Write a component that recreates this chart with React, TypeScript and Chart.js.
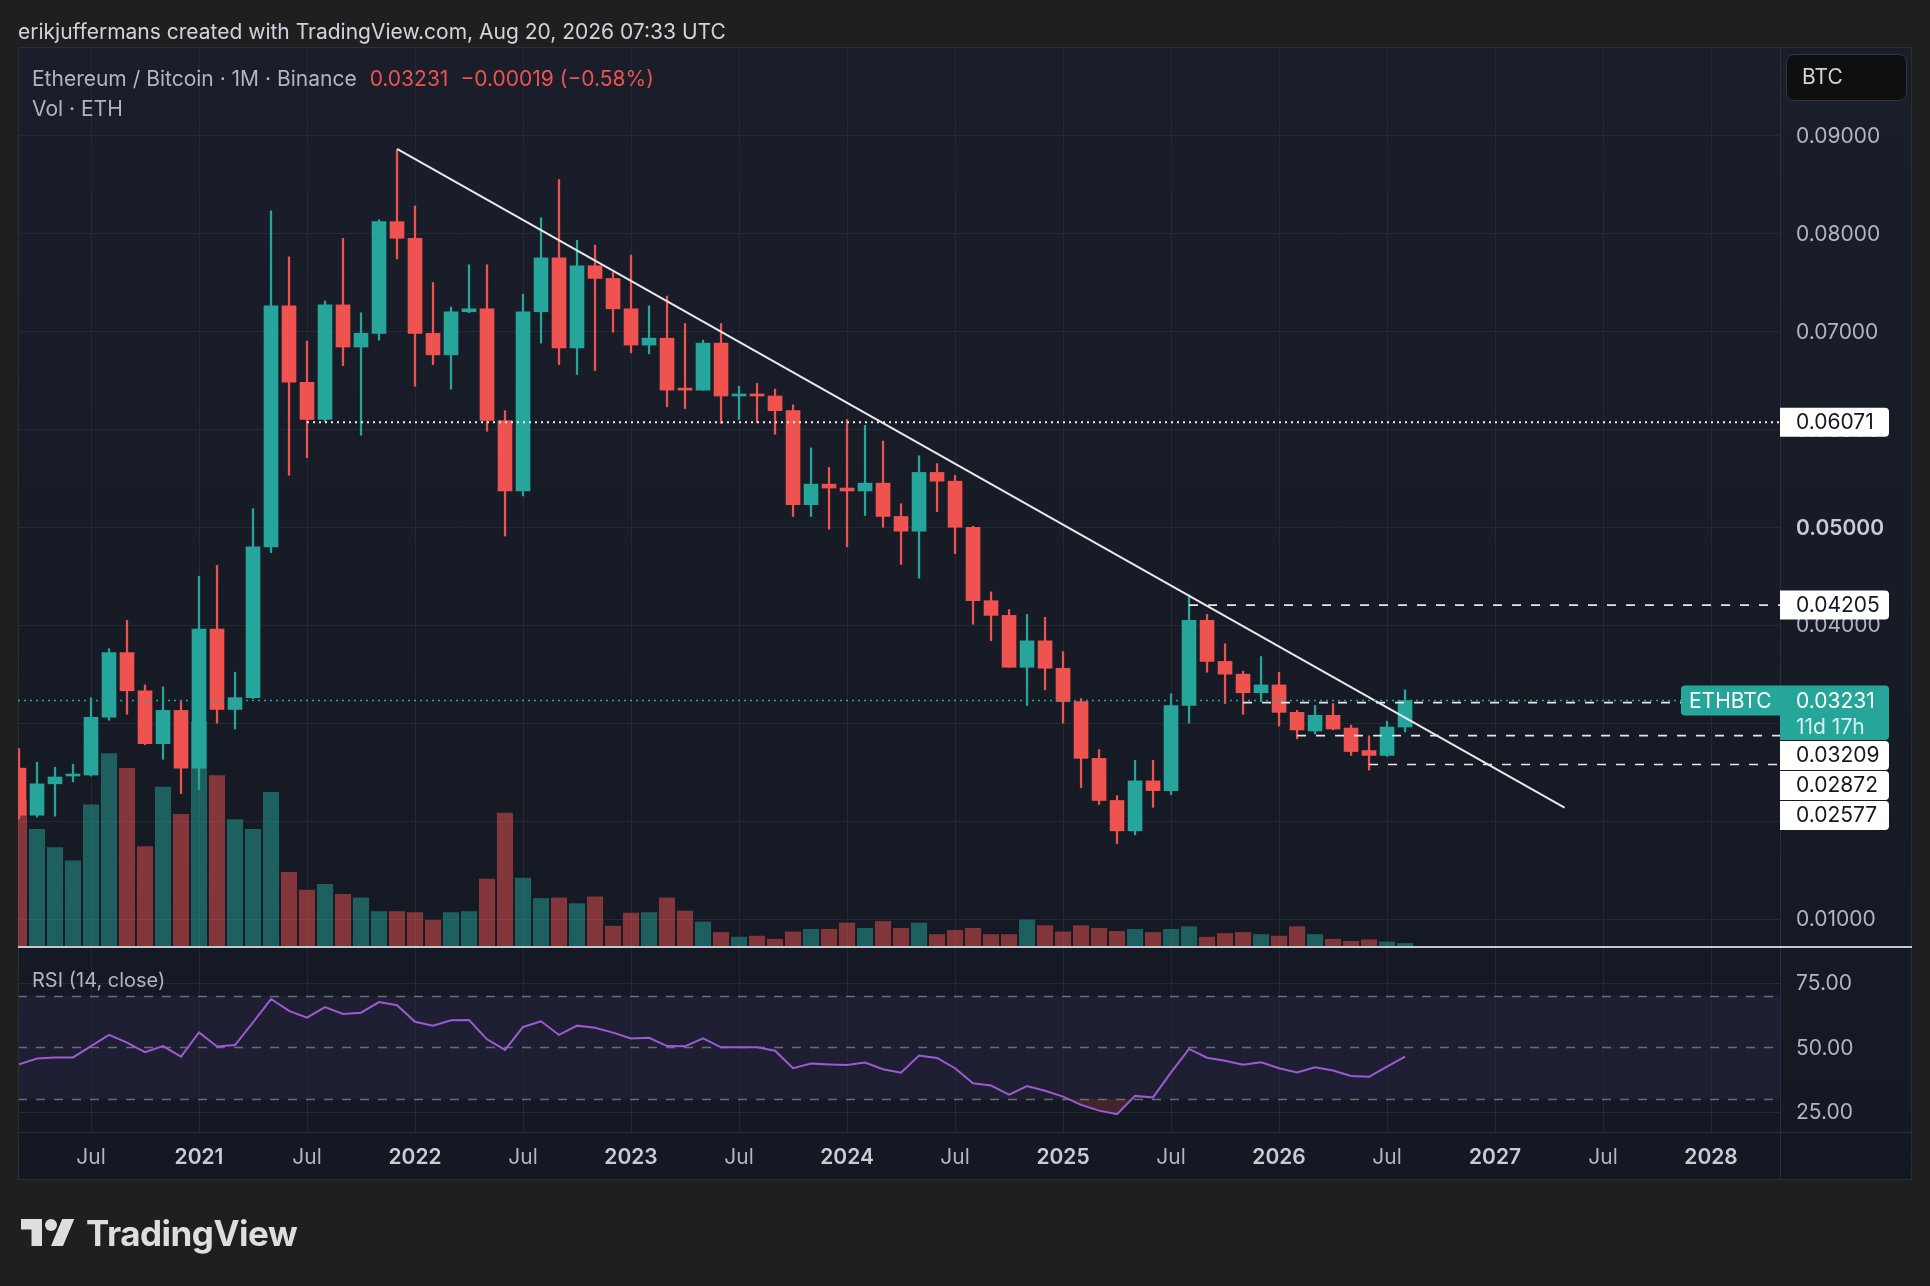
import React, { useEffect, useRef } from "react";
import { Chart, registerables } from "chart.js";

Chart.register(...registerables);

// ---------------- DATA ----------------
const months = [
  "2020-03", "2020-04", "2020-05", "2020-06", "2020-07", "2020-08", "2020-09", "2020-10", "2020-11", "2020-12",
  "2021-01", "2021-02", "2021-03", "2021-04", "2021-05", "2021-06", "2021-07", "2021-08", "2021-09", "2021-10", "2021-11", "2021-12",
  "2022-01", "2022-02", "2022-03", "2022-04", "2022-05", "2022-06", "2022-07", "2022-08", "2022-09", "2022-10", "2022-11", "2022-12",
  "2023-01", "2023-02", "2023-03", "2023-04", "2023-05", "2023-06", "2023-07", "2023-08", "2023-09", "2023-10", "2023-11", "2023-12",
  "2024-01", "2024-02", "2024-03", "2024-04", "2024-05", "2024-06", "2024-07", "2024-08", "2024-09", "2024-10", "2024-11", "2024-12",
  "2025-01", "2025-02", "2025-03", "2025-04", "2025-05", "2025-06", "2025-07", "2025-08", "2025-09", "2025-10", "2025-11", "2025-12",
  "2026-01", "2026-02", "2026-03", "2026-04", "2026-05", "2026-06", "2026-07", "2026-08",
];

const opens = [
  0.0254, 0.0206, 0.0238, 0.0246, 0.0247, 0.0306, 0.0372, 0.0333, 0.0279, 0.0313,
  0.0254, 0.0396, 0.0314, 0.0326, 0.0480, 0.0726, 0.0648, 0.0610, 0.0727, 0.0684, 0.0698, 0.0812,
  0.0795, 0.0698, 0.0676, 0.0720, 0.0723, 0.0609, 0.0537, 0.0720, 0.0775, 0.0683, 0.0767, 0.0754,
  0.0723, 0.0686, 0.0693, 0.0641, 0.0640, 0.0688, 0.0634, 0.0635, 0.0634, 0.0619, 0.0523, 0.0544,
  0.0540, 0.0537, 0.0545, 0.0511, 0.0496, 0.0556, 0.0547, 0.0500, 0.0425, 0.0410, 0.0357, 0.0384,
  0.0356, 0.0322, 0.0264, 0.0221, 0.0190, 0.0241, 0.0231, 0.0318, 0.0405, 0.0363, 0.0350, 0.0331,
  0.0339, 0.0311, 0.0292, 0.0308, 0.0295, 0.0272, 0.0267, 0.0296,
];
const highs = [
  0.0274, 0.0260, 0.0255, 0.0258, 0.0326, 0.0376, 0.0405, 0.0339, 0.0337, 0.0322,
  0.0450, 0.0461, 0.0352, 0.0519, 0.0823, 0.0776, 0.0690, 0.0731, 0.0795, 0.0719, 0.0814, 0.0885,
  0.0828, 0.0750, 0.0725, 0.0768, 0.0768, 0.0619, 0.0738, 0.0816, 0.0855, 0.0793, 0.0788, 0.0760,
  0.0778, 0.0726, 0.0736, 0.0708, 0.0691, 0.0708, 0.0644, 0.0647, 0.0641, 0.0625, 0.0581, 0.0561,
  0.0610, 0.0604, 0.0588, 0.0524, 0.0573, 0.0565, 0.0553, 0.0501, 0.0434, 0.0416, 0.0411, 0.0408,
  0.0373, 0.0325, 0.0273, 0.0226, 0.0262, 0.0262, 0.0330, 0.0431, 0.0411, 0.0381, 0.0353, 0.0368,
  0.0352, 0.0313, 0.0318, 0.0320, 0.0298, 0.0287, 0.0302, 0.0334,
];
const lows = [
  0.0202, 0.0204, 0.0205, 0.0240, 0.0246, 0.0303, 0.0309, 0.0278, 0.0263, 0.0228,
  0.0232, 0.0300, 0.0294, 0.0325, 0.0474, 0.0553, 0.0571, 0.0608, 0.0665, 0.0594, 0.0691, 0.0774,
  0.0644, 0.0666, 0.0641, 0.0719, 0.0598, 0.0491, 0.0532, 0.0688, 0.0666, 0.0656, 0.0660, 0.0699,
  0.0678, 0.0677, 0.0623, 0.0621, 0.0640, 0.0606, 0.0610, 0.0607, 0.0595, 0.0511, 0.0511, 0.0498,
  0.0480, 0.0512, 0.0500, 0.0462, 0.0448, 0.0516, 0.0473, 0.0401, 0.0384, 0.0357, 0.0318, 0.0334,
  0.0300, 0.0234, 0.0217, 0.0177, 0.0186, 0.0214, 0.0227, 0.0300, 0.0352, 0.0320, 0.0309, 0.0322,
  0.0297, 0.0284, 0.0289, 0.0293, 0.0267, 0.0252, 0.0266, 0.0291,
];
const closes = [
  0.0206, 0.0238, 0.0245, 0.0247, 0.0306, 0.0372, 0.0333, 0.0279, 0.0313, 0.0254,
  0.0396, 0.0314, 0.0326, 0.0480, 0.0726, 0.0648, 0.0610, 0.0727, 0.0684, 0.0698, 0.0812, 0.0795,
  0.0698, 0.0676, 0.0720, 0.0723, 0.0609, 0.0537, 0.0720, 0.0775, 0.0683, 0.0767, 0.0754, 0.0723,
  0.0686, 0.0693, 0.0640, 0.0640, 0.0688, 0.0634, 0.0635, 0.0634, 0.0619, 0.0523, 0.0544, 0.0540,
  0.0537, 0.0545, 0.0511, 0.0496, 0.0556, 0.0547, 0.0500, 0.0425, 0.0410, 0.0357, 0.0384, 0.0356,
  0.0322, 0.0264, 0.0221, 0.0190, 0.0241, 0.0231, 0.0318, 0.0405, 0.0363, 0.0350, 0.0331, 0.0339,
  0.0311, 0.0293, 0.0308, 0.0294, 0.0271, 0.0267, 0.0296, 0.03231,
];
const volumes = [
  277, 223, 188, 163, 270, 368, 340, 190, 304, 252,
  428, 326, 242, 223, 294, 141, 107, 118, 99, 92, 66, 66,
  64, 49, 64, 66, 128, 254, 130, 91, 92, 81, 94, 38,
  63, 64, 92, 67, 46, 26, 17, 19, 13, 27, 32, 32,
  44, 34, 47, 34, 44, 22, 30, 34, 22, 22, 50, 39,
  27, 39, 34, 28, 32, 26, 32, 37, 17, 24, 26, 22,
  19, 37, 22, 13, 9, 12, 8, 5,
];
const rsiValues = [
  43.4, 45.7, 46.1, 46.1, 50.5, 54.8, 51.8, 48.1, 50.5, 46.4,
  55.8, 50.3, 50.9, 59.7, 68.7, 64.1, 61.5, 65.6, 62.9, 63.4, 67.5, 66.3,
  59.9, 58.4, 60.5, 60.6, 53.1, 49.0, 57.9, 60.1, 54.8, 58.4, 57.6, 55.7,
  53.4, 53.7, 50.5, 50.4, 53.5, 50.0, 50.0, 50.0, 48.7, 41.9, 43.7, 43.4,
  43.2, 44.1, 41.5, 40.2, 46.8, 45.9, 41.9, 36.1, 35.2, 31.7, 35.0, 33.2,
  30.9, 27.7, 25.5, 24.1, 31.2, 30.6, 40.3, 49.4, 46.0, 44.8, 43.3, 44.2,
  41.9, 40.3, 42.3, 41.0, 38.9, 38.6, 42.5, 46.4,
];

const priceTicks = [0.01, 0.02, 0.03, 0.04, 0.05, 0.06, 0.07, 0.08, 0.09];
const priceTickLabels = ["0.01000", "0.02000", "0.03000", "0.04000", "0.05000", "0.06000", "0.07000", "0.08000", "0.09000"];
const priceTickBold = [false, false, false, false, true, false, false, false, false];
const rsiTicks = [25, 50, 75];
const rsiTickLabels = ["25.00", "50.00", "75.00"];
const rsiBands = [70, 50, 30];
const timeTickIdx = [4, 10, 16, 22, 28, 34, 40, 46, 52, 58, 64, 70, 76, 82, 88, 94];
const timeTickLabels = ["Jul", "2021", "Jul", "2022", "Jul", "2023", "Jul", "2024", "Jul", "2025", "Jul", "2026", "Jul", "2027", "Jul", "2028"];

// drawings (x = month position, y = price)
const trendLine = [
  { x: 21, y: 0.08862 },
  { x: 85.86, y: 0.02138 },
];
const lastPrice = 0.03231;
const lastPriceCountdown = "11d 17h";
const symbolName = "ETHBTC";
const dottedLevel = { price: 0.06071, from: 16, label: "0.06071" };
const dashedLevels = [
  { price: 0.04205, from: 65, label: "0.04205" },
  { price: 0.03209, from: 68, label: "0.03209" },
  { price: 0.02872, from: 71, label: "0.02872" },
  { price: 0.02577, from: 75, label: "0.02577" },
];

// ---------------- LAYOUT / STYLE ----------------
const W = 1930;
const H = 1286;
const L = 18; // plot left
const R = 1780; // plot right / price scale left
const T = 47; // frame top
const SEP = 947; // price / rsi separator
const RB = 1132; // rsi bottom / time axis top
const FR = 1912; // frame right
const FB = 1180; // frame bottom

const X_MIN = -0.0556;
const X_MAX = 97.83;
const Y_MIN = -0.011748;
const Y_MAX = 0.099034;
const RSI_MIN = 17.22;
const RSI_MAX = 437.3;
const VOL_MIN = -355.6;
const VOL_MAX = 1719;

const UP = "#26a69a";
const DOWN = "#ef5350";
const VOL_UP = "rgba(38,166,154,0.5)";
const VOL_DOWN = "rgba(239,83,80,0.5)";
const GRID = "#242833";
const BORDER = "#2a2e39";
const AXIS_TEXT = "#b2b5be";
const FONT = "Inter, 'Noto Sans', sans-serif";

function rr(ctx: CanvasRenderingContext2D, x: number, y: number, w: number, h: number, r: [number, number, number, number]) {
  const [tl, tr, br, bl] = r;
  ctx.beginPath();
  ctx.moveTo(x + tl, y);
  ctx.lineTo(x + w - tr, y);
  ctx.quadraticCurveTo(x + w, y, x + w, y + tr);
  ctx.lineTo(x + w, y + h - br);
  ctx.quadraticCurveTo(x + w, y + h, x + w - br, y + h);
  ctx.lineTo(x + bl, y + h);
  ctx.quadraticCurveTo(x, y + h, x, y + h - bl);
  ctx.lineTo(x, y + tl);
  ctx.quadraticCurveTo(x, y, x + tl, y);
  ctx.closePath();
}

const panePlugin = {
  id: "panes",
  beforeDraw(chart: any) {
    const ctx: CanvasRenderingContext2D = chart.ctx;
    const xs = chart.scales.x;
    const ys = chart.scales.y;
    const rs = chart.scales.yRsi;
    ctx.save();
    const g = ctx.createLinearGradient(0, T, 0, FB);
    g.addColorStop(0, "#1a1e2a");
    g.addColorStop(1, "#141822");
    ctx.fillStyle = g;
    ctx.fillRect(L, T, FR - L, FB - T);

    // RSI band
    const y70 = rs.getPixelForValue(70);
    const y30 = rs.getPixelForValue(30);
    ctx.fillStyle = "rgba(126,87,194,0.10)";
    ctx.fillRect(L, y70, R - L, y30 - y70);

    ctx.lineWidth = 1;
    ctx.strokeStyle = GRID;
    ctx.beginPath();
    priceTicks.forEach((v) => {
      const py = Math.round(ys.getPixelForValue(v)) + 0.5;
      ctx.moveTo(L, py);
      ctx.lineTo(R, py);
    });
    rsiTicks.forEach((v) => {
      if (v === 50) return;
      const py = Math.round(rs.getPixelForValue(v)) + 0.5;
      ctx.moveTo(L, py);
      ctx.lineTo(R, py);
    });
    timeTickIdx.forEach((i) => {
      const px = Math.round(xs.getPixelForValue(i)) + 0.5;
      if (px > R) return;
      ctx.moveTo(px, T);
      ctx.lineTo(px, RB);
    });
    ctx.stroke();

    // dashed RSI levels
    ctx.strokeStyle = "rgba(120,123,134,0.85)";
    ctx.lineWidth = 1.5;
    ctx.setLineDash([9, 9]);
    ctx.beginPath();
    rsiBands.forEach((v) => {
      const py = Math.round(rs.getPixelForValue(v)) + 0.5;
      ctx.moveTo(L, py);
      ctx.lineTo(R, py);
    });
    ctx.stroke();
    ctx.setLineDash([]);

    // borders
    ctx.strokeStyle = BORDER;
    ctx.lineWidth = 1;
    ctx.strokeRect(L + 0.5, T + 0.5, FR - L - 1, FB - T - 1);
    ctx.beginPath();
    ctx.moveTo(R + 0.5, T);
    ctx.lineTo(R + 0.5, FB);
    ctx.moveTo(L, RB + 0.5);
    ctx.lineTo(FR, RB + 0.5);
    ctx.stroke();
    ctx.restore();
  },
  afterDatasetsDraw(chart: any) {
    const ctx: CanvasRenderingContext2D = chart.ctx;
    const xs = chart.scales.x;
    const ys = chart.scales.y;
    const rs = chart.scales.yRsi;
    ctx.save();

    // separator between panes
    ctx.strokeStyle = "#c4c7ce";
    ctx.lineWidth = 2;
    ctx.beginPath();
    ctx.moveTo(L, SEP);
    ctx.lineTo(FR, SEP);
    ctx.stroke();

    ctx.textBaseline = "middle";
    ctx.textAlign = "left";
    const TX = 1796;

    // price ticks
    priceTicks.forEach((v, i) => {
      ctx.font = (priceTickBold[i] ? "600 " : "400 ") + "21px " + FONT;
      ctx.fillStyle = priceTickBold[i] ? "#c9ccd3" : AXIS_TEXT;
      ctx.fillText(priceTickLabels[i], TX, ys.getPixelForValue(v) + 1);
    });
    // RSI ticks
    ctx.font = "400 21px " + FONT;
    ctx.fillStyle = AXIS_TEXT;
    rsiTicks.forEach((v, i) => {
      ctx.fillText(rsiTickLabels[i], TX, rs.getPixelForValue(v) + 1);
    });

    // time ticks
    ctx.textAlign = "center";
    timeTickIdx.forEach((i, k) => {
      const isYear = /^\d{4}$/.test(timeTickLabels[k]);
      ctx.font = (isYear ? "600 " : "400 ") + "21px " + FONT;
      ctx.fillStyle = isYear ? "#c9ccd3" : AXIS_TEXT;
      ctx.fillText(timeTickLabels[k], xs.getPixelForValue(i), 1158);
    });
    ctx.textAlign = "left";

    // BTC button
    rr(ctx, 1786.5, 54.5, 120, 46, [8, 8, 8, 8]);
    ctx.fillStyle = "#0f0f10";
    ctx.fill();
    ctx.strokeStyle = "#34363c";
    ctx.lineWidth = 1;
    ctx.stroke();
    ctx.font = "400 21px " + FONT;
    ctx.fillStyle = "#d1d4dc";
    ctx.fillText("BTC", 1802, 78);

    // last price label
    const lp = ys.getPixelForValue(lastPrice);
    ctx.fillStyle = UP;
    rr(ctx, 1681, lp - 15, 99, 30, [4, 0, 0, 4]);
    ctx.fill();
    rr(ctx, 1780, lp - 15, 109, 54.5, [0, 4, 4, 0]);
    ctx.fill();
    ctx.fillStyle = "#ffffff";
    ctx.font = "400 21px " + FONT;
    ctx.fillText(symbolName, 1689, lp + 1);
    ctx.fillText(lastPrice.toFixed(5), TX, lp + 1);
    ctx.fillStyle = "rgba(255,255,255,0.82)";
    ctx.fillText(lastPriceCountdown, TX, lp + 27);

    // level labels (stacked when they collide)
    const items = [dottedLevel, ...dashedLevels]
      .map((d) => ({ label: d.label, y: ys.getPixelForValue(d.price) }))
      .sort((a, b) => a.y - b.y);
    let prevBottom = -1e9;
    const lpTop = lp - 15;
    const lpBottom = lp + 39.5;
    items.forEach((it) => {
      let top = it.y - 14.5;
      if (it.y >= lp && prevBottom < lpBottom) prevBottom = lpBottom;
      if (top < prevBottom + 1) top = prevBottom + 1;
      if (it.y < lp && top + 29 > lpTop) top = lpTop - 30;
      ctx.fillStyle = "#ffffff";
      rr(ctx, 1780, top, 109, 29, [0, 4, 4, 0]);
      ctx.fill();
      ctx.fillStyle = "#131722";
      ctx.fillText(it.label, TX, top + 15);
      prevBottom = top + 29;
    });

    ctx.restore();
  },
};

export default function App() {
  const ref = useRef<HTMLCanvasElement>(null);

  useEffect(() => {
    document.body.style.margin = "0";
    document.body.style.overflow = "hidden";
    const canvas = ref.current;
    if (!canvas) return;
    const up = closes.map((c, i) => c >= opens[i]);
    const candleColors = up.map((u) => (u ? UP : DOWN));
    const volColors = up.map((u) => (u ? VOL_UP : VOL_DOWN));

    const levelLine = (price: number, from: number, color: string, dash: number[], width: number) => ({
      type: "line" as const,
      xAxisID: "x",
      yAxisID: "y",
      data: [
        { x: from, y: price },
        { x: X_MAX, y: price },
      ],
      borderColor: color,
      borderWidth: width,
      borderDash: dash,
      pointRadius: 0,
      fill: false,
      order: 1,
    });

    const chart = new Chart(canvas, {
      type: "bar",
      data: {
        datasets: [
          {
            type: "bar",
            label: "Vol",
            xAxisID: "x",
            yAxisID: "yVol",
            data: volumes.map((v, i) => ({ x: i, y: v })),
            backgroundColor: volColors,
            barThickness: 15.5,
            grouped: false,
            order: 10,
          } as any,
          {
            type: "bar",
            label: "wicks",
            xAxisID: "x",
            yAxisID: "y",
            data: lows.map((l, i) => ({ x: i, y: [l, highs[i]] })),
            backgroundColor: candleColors,
            barThickness: 1.6,
            grouped: false,
            order: 6,
          } as any,
          {
            type: "bar",
            label: "bodies",
            xAxisID: "x",
            yAxisID: "y",
            data: opens.map((o, i) => ({ x: i, y: [o, closes[i]] })),
            backgroundColor: candleColors,
            barThickness: 14,
            minBarLength: 2,
            grouped: false,
            order: 5,
          } as any,
          {
            type: "line",
            label: "RSI",
            xAxisID: "x",
            yAxisID: "yRsi",
            data: rsiValues.map((v, i) => ({ x: i, y: v })),
            borderColor: "#9c5bd2",
            borderWidth: 2,
            pointRadius: 0,
            tension: 0,
            fill: { target: { value: 30 }, above: "rgba(0,0,0,0)", below: "rgba(239,83,80,0.22)" },
            order: 4,
          } as any,
          {
            type: "line",
            label: "trend",
            xAxisID: "x",
            yAxisID: "y",
            data: trendLine,
            borderColor: "#e9e9ec",
            borderWidth: 2,
            pointRadius: 0,
            fill: false,
            order: 2,
          } as any,
          levelLine(lastPrice, X_MIN, UP, [2, 4], 1.6) as any,
          levelLine(dottedLevel.price, dottedLevel.from, "#f0f0f0", [2, 4], 2) as any,
          ...dashedLevels.map((d) => levelLine(d.price, d.from, "#e6e6e6", [9, 10], 1.6) as any),
        ],
      },
      options: {
        responsive: false,
        maintainAspectRatio: false,
        animation: false,
        events: [],
        layout: { padding: { left: L, top: T, right: W - R, bottom: H - RB } },
        plugins: {
          legend: { display: false },
          tooltip: { enabled: false },
        },
        scales: {
          x: { type: "linear", axis: "x", position: "bottom", min: X_MIN, max: X_MAX, offset: false, grace: 0, bounds: "data", display: false },
          y: { type: "linear", axis: "y", position: "right", min: Y_MIN, max: Y_MAX, grace: 0, display: false },
          yRsi: { type: "linear", axis: "y", position: "right", min: RSI_MIN, max: RSI_MAX, grace: 0, display: false },
          yVol: { type: "linear", axis: "y", position: "left", min: VOL_MIN, max: VOL_MAX, grace: 0, display: false },
        },
      } as any,
      plugins: [panePlugin as any],
    });
    return () => chart.destroy();
  }, []);

  const txt: React.CSSProperties = {
    position: "absolute",
    fontFamily: FONT,
    fontSize: 21,
    lineHeight: "26px",
    whiteSpace: "nowrap",
  };

  return (
    <div
      style={{
        position: "absolute",
        left: 0,
        top: 0,
        width: W,
        height: H,
        background: "#1f1f1f",
        overflow: "hidden",
      }}
    >
      <canvas ref={ref} width={W} height={H} style={{ position: "absolute", left: 0, top: 0, width: W, height: H }} />
      <div style={{ ...txt, left: 18, top: 19, color: "#d1d4dc" }}>
        erikjuffermans created with TradingView.com, Aug 20, 2026 07:33 UTC
      </div>
      <div style={{ ...txt, left: 32, top: 66, color: AXIS_TEXT }}>
        Ethereum / Bitcoin · 1M · Binance
        <span style={{ color: DOWN, marginLeft: 13 }}>0.03231</span>
        <span style={{ color: DOWN, marginLeft: 12 }}>−0.00019 (−0.58%)</span>
      </div>
      <div style={{ ...txt, left: 32, top: 96, color: AXIS_TEXT }}>Vol · ETH</div>
      <div style={{ ...txt, left: 32, top: 967, color: AXIS_TEXT, fontSize: 20 }}>RSI (14, close)</div>
      <svg width={54} height={42} viewBox="0 0 36 28" style={{ position: "absolute", left: 21, top: 1213 }}>
        <path fill="#dedede" d="M14 22H7V11H0V4h14v18zM28 22h-8l7.5-18h8L28 22z" />
        <circle fill="#dedede" cx="20" cy="8" r="4" />
      </svg>
      <div
        style={{
          ...txt,
          left: 86,
          top: 1211,
          fontSize: 35,
          lineHeight: "44px",
          fontWeight: 700,
          letterSpacing: "-0.5px",
          color: "#dedede",
        }}
      >
        TradingView
      </div>
    </div>
  );
}
